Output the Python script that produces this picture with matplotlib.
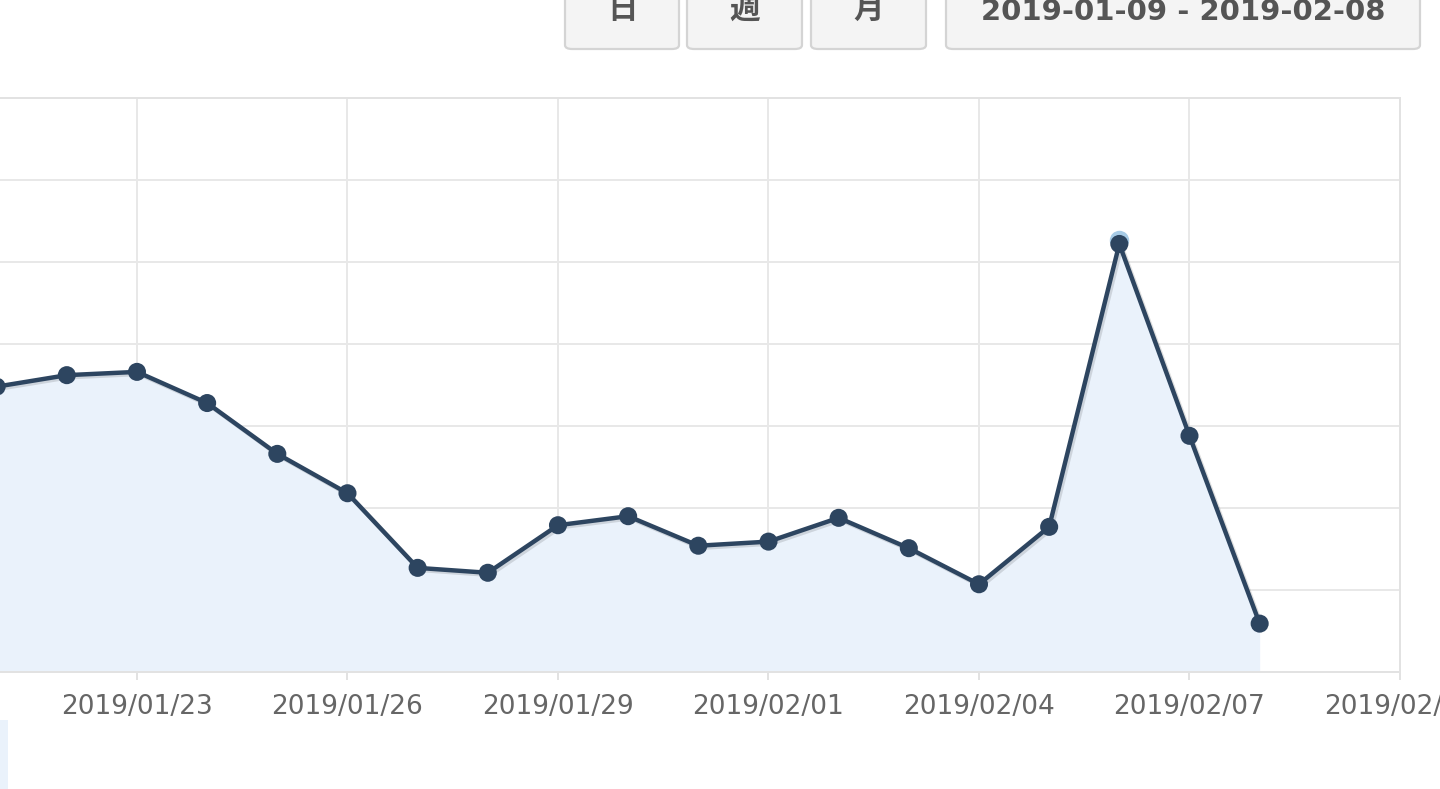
import numpy as np
import matplotlib.pyplot as plt
import matplotlib.dates as mdates
import matplotlib.patheffects as pe
from matplotlib.patches import FancyBboxPatch, Rectangle
from datetime import date

plt.rcParams['font.family'] = ['DejaVu Sans', 'Noto Sans CJK JP']

# data (grid step = 10)
days = ["2019-01-21", "2019-01-22", "2019-01-23", "2019-01-24", "2019-01-25",
        "2019-01-26", "2019-01-27", "2019-01-28", "2019-01-29", "2019-01-30",
        "2019-01-31", "2019-02-01", "2019-02-02", "2019-02-03", "2019-02-04",
        "2019-02-05", "2019-02-06", "2019-02-07", "2019-02-08"]
values = [34.8, 36.2, 36.6, 32.8, 26.6, 21.8, 12.7, 12.1, 17.9, 19.0,
          15.4, 15.9, 18.8, 15.1, 10.7, 17.7, 52.2, 28.8, 5.9]
buttons = ["日", "週", "月", "2019-01-09 - 2019-02-08"]
tick_start = "2019-01-20"
tick_every = 3

W, H = 1440, 789
fig = plt.figure(figsize=(W / 100, H / 100), dpi=100)

def fx(px):
    return px / W

def fy(py):
    return 1 - py / H

# axes: left spine falls off the picture, right edge at x=1400
left_px = -143.7
ax = fig.add_axes([fx(left_px), fy(672), fx(1400 - left_px), fy(98) - fy(672)])

x = mdates.datestr2num(days)
line_col = "#2d4560"
ax.fill_between(x, values, 0, color="#eaf2fb", lw=0, zorder=1)
ax.plot(x, values, color=line_col, lw=3.2, zorder=3, solid_joinstyle="round",
        path_effects=[pe.SimpleLineShadow(offset=(1.5, -1.5), shadow_color="k", alpha=0.12),
                      pe.Normal()])
# hover halo on the peak
ipk = int(np.argmax(values))
ax.plot(x[ipk], values[ipk] + 0.5, "o", ms=14, color="#a7cbe6", zorder=2, mew=0)
ax.plot(x, values, "o", ms=13, color=line_col, mew=0, zorder=4,
        path_effects=[pe.SimpleLineShadow(offset=(2, -2), shadow_color="k", alpha=0.4),
                      pe.Normal()])

ax.set_xlim(mdates.date2num(date(2019, 1, 19)), mdates.date2num(date(2019, 2, 10)))
ax.set_ylim(0, 70)
ax.set_yticks(np.arange(0, 71, 10))
ticks = np.arange(mdates.datestr2num(tick_start), mdates.date2num(date(2019, 2, 11)), tick_every)
ax.set_xticks(ticks)
ax.xaxis.set_major_formatter(mdates.DateFormatter("%Y/%m/%d"))
ax.grid(True, color="#e8e8e8", lw=1.4, zorder=0)
ax.set_axisbelow(True)
ax.spines["left"].set_visible(False)
for s in ["top", "right", "bottom"]:
    ax.spines[s].set_color("#e2e2e2")
    ax.spines[s].set_linewidth(1.4)
ax.tick_params(axis="y", left=False, labelleft=False)
ax.tick_params(axis="x", length=6, width=1.4, color="#e2e2e2", pad=10,
               labelsize=19, labelcolor="#666666")

# buttons on top
btn_px = [(565, 679), (687, 802), (811, 926), (946, 1420)]
for lab, (x0, x1) in zip(buttons, btn_px):
    box = FancyBboxPatch((fx(x0), fy(49)), fx(x1 - x0), fy(-20) - fy(49),
                         boxstyle="round,pad=0,rounding_size=0.005",
                         transform=fig.transFigure, facecolor="#f4f4f4",
                         edgecolor="#d4d4d4", lw=1.6, zorder=5)
    fig.patches.append(box)
    if len(lab) == 1:
        fam = ["Noto Sans CJK JP", "DejaVu Sans"]
        yy, fs = 9, 22
    else:
        fam = ["DejaVu Sans", "Noto Sans CJK JP"]
        yy, fs = 12, 21
    fig.text(fx((x0 + x1) / 2), fy(yy), lab, ha="center", va="center",
             fontsize=fs, fontweight="bold", color="#555555",
             family=fam, zorder=6)

fig.patches.append(Rectangle((0, 0), fx(8), fy(720), transform=fig.transFigure,
                             facecolor="#eaf2fb", edgecolor="none"))

plt.savefig("out.png", dpi=100)
